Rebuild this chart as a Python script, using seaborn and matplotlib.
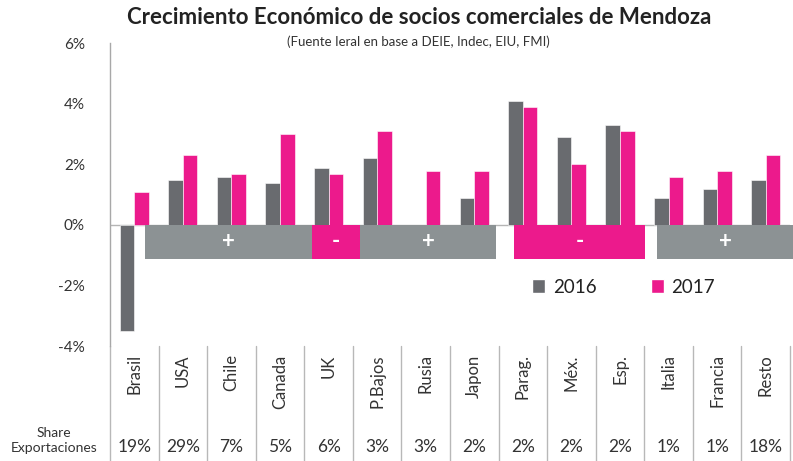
import pandas as pd
import matplotlib.pyplot as plt
import seaborn as sns
from matplotlib.patches import Rectangle, Patch
from matplotlib.transforms import blended_transform_factory

# -------------------------
# Data
# -------------------------
paises = ['Brasil', 'USA', 'Chile', 'Canada', 'UK', 'P.Bajos', 'Rusia', 'Japon',
          'Parag.', 'Méx.', 'Esp.', 'Italia', 'Francia', 'Resto']
crec_2016 = [-3.5, 1.5, 1.6, 1.4, 1.9, 2.2, 0.0, 0.9, 4.1, 2.9, 3.3, 0.9, 1.2, 1.5]
crec_2017 = [1.1, 2.3, 1.7, 3.0, 1.7, 3.1, 1.8, 1.8, 3.9, 2.0, 3.1, 1.6, 1.8, 2.3]
share_expo = ['19%', '29%', '7%', '5%', '6%', '3%', '3%', '2%', '2%', '2%', '2%', '1%', '1%', '18%']
anios = ['2016', '2017']

# signo de cada grupo de socios (desde, hasta en unidades de categoria)
grupos = [('+', 0.22, 3.65), ('-', 3.65, 4.65), ('+', 4.65, 7.45),
          ('-', 7.82, 10.51), ('+', 10.76, 13.6)]

gris = '#696b6f'
rosa = '#ec1a8c'
gris_caja = '#8c9294'

df = pd.DataFrame({
    'pais': paises * 2,
    'valor': crec_2016 + crec_2017,
    'anio': [anios[0]] * len(paises) + [anios[1]] * len(paises),
})

# -------------------------
# Figure
# -------------------------
sns.set_style('white')
plt.rcParams['font.family'] = ['Lato', 'DejaVu Sans']

fig = plt.figure(figsize=(7.93, 4.61), dpi=100)
ax = fig.add_axes([110 / 793, 1 - 346 / 461, 680 / 793, 302.5 / 461])

sns.barplot(data=df, x='pais', y='valor', hue='anio', palette=[gris, rosa],
            width=0.6, gap=0, saturation=1, edgecolor='white', linewidth=0.4,
            ax=ax, legend=False)

ax.set_ylim(-4, 6)
ax.set_xlim(-0.5, 13.5)
ax.set_yticks([-4, -2, 0, 2, 4, 6])
ax.set_yticklabels(['-4%', '-2%', '0%', '2%', '4%', '6%'], fontsize=11, color='#333333')
ax.tick_params(axis='y', length=0, pad=18)
ax.set_xlabel('')
ax.set_ylabel('')
ax.set_xticks(range(len(paises)))
ax.set_xticklabels(paises, rotation=90, fontsize=12, color='#333333')
ax.tick_params(axis='x', length=0, pad=6)

for s in ['top', 'right', 'bottom']:
    ax.spines[s].set_visible(False)
ax.spines['left'].set_color('#a8a8a8')
ax.spines['left'].set_linewidth(1)

# linea del cero
ax.axhline(0, color='#b5b5b5', lw=1, zorder=0)

# cajas de signo
for signo, x0, x1 in grupos:
    c = gris_caja if signo == '+' else rosa
    ax.add_patch(Rectangle((x0, -1.12), x1 - x0, 1.12, facecolor=c, edgecolor='none',
                           zorder=3, clip_on=False))
    ax.text((x0 + x1) / 2, -0.56, signo, color='white', fontsize=16, fontweight='bold',
            ha='center', va='center', zorder=4)

# separadores de la tabla inferior
trans = blended_transform_factory(ax.transData, ax.transAxes)
for i in range(len(paises) + 1):
    ax.plot([i - 0.5, i - 0.5], [0, -0.39], color='#b8b8b8', lw=1,
            transform=trans, clip_on=False)

for i, s in enumerate(share_expo):
    ax.text(i, -0.334, s, transform=trans, ha='center', va='center',
            fontsize=12.5, color='#333333')

fig.text(54 / 793, 1 - 440 / 461, 'Share\nExportaciones', ha='center', va='center',
         fontsize=10, color='#333333', linespacing=1.3)

# leyenda
handles = [Patch(facecolor=gris, label=anios[0]), Patch(facecolor=rosa, label=anios[1])]
ax.legend(handles=handles, loc='center left', bbox_to_anchor=(0.596, 0.195),
          ncol=2, frameon=False, fontsize=13.5, handlelength=0.7, handleheight=0.7,
          handletextpad=0.4, columnspacing=2.9, labelcolor='#222222')

# titulos
fig.text(0.528, 1 - 18 / 461, 'Crecimiento Económico de socios comerciales de Mendoza',
         ha='center', va='center', fontsize=16, fontweight='bold', color='#222222')
fig.text(0.527, 1 - 42 / 461, '(Fuente Ieral en base a DEIE, Indec, EIU, FMI)',
         ha='center', va='center', fontsize=9.5, color='#333333')

plt.savefig('out.png', dpi=100)
